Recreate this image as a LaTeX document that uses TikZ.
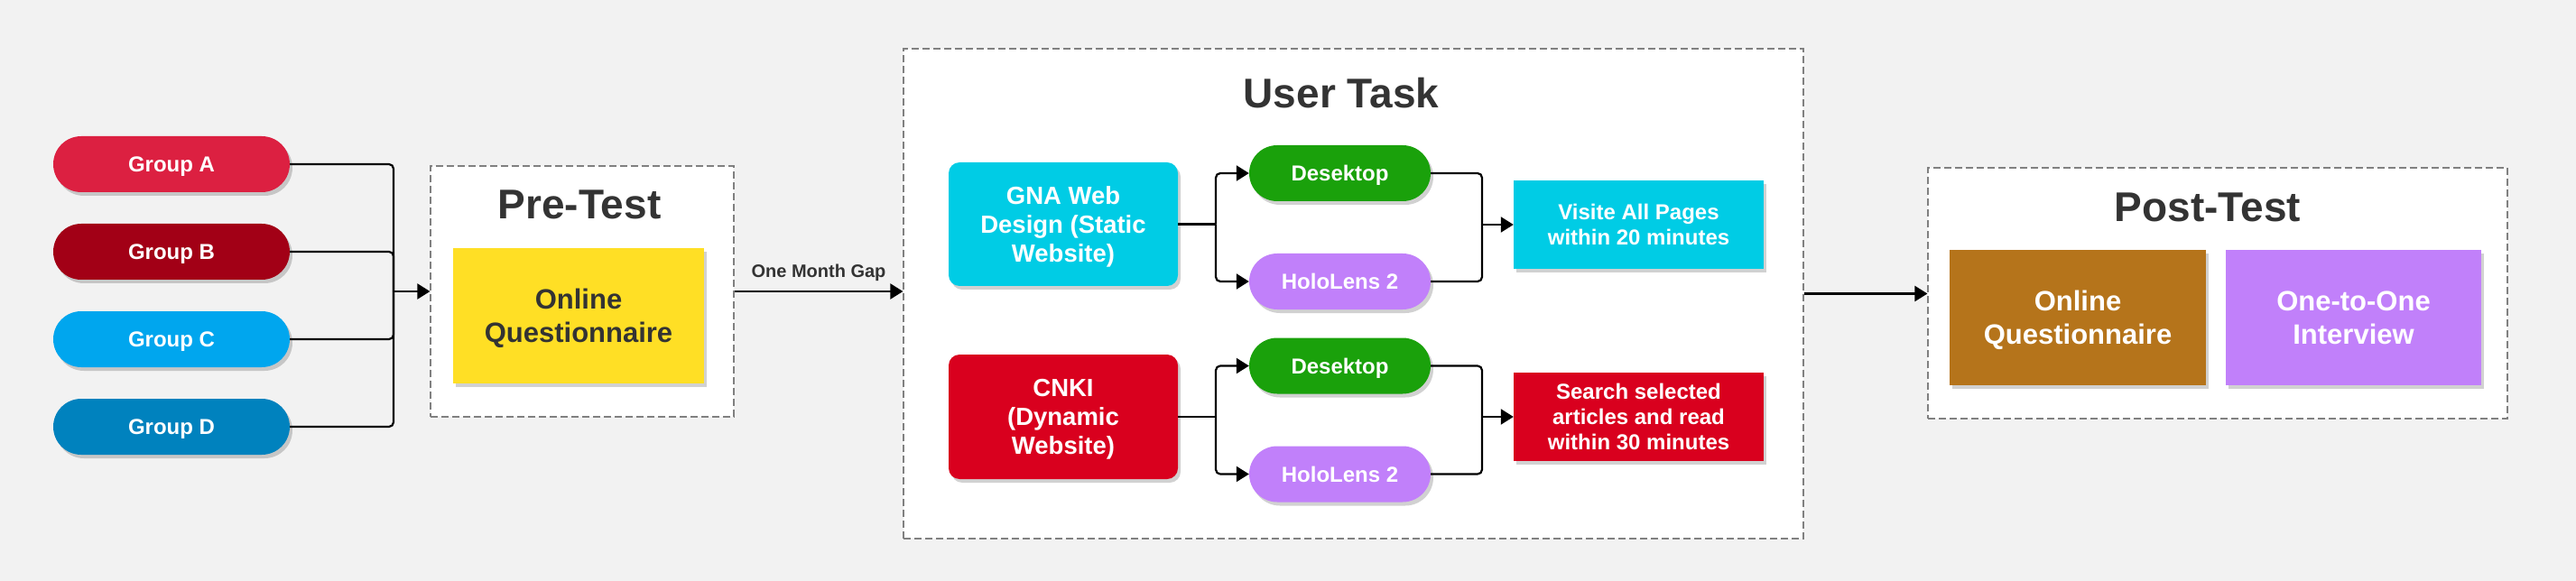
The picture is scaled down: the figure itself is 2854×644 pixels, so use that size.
\documentclass[tikz,border=0pt]{standalone}
\usepackage{fontspec}
\setmainfont{Liberation Sans}
\usetikzlibrary{arrows.meta,shadows,calc}
\definecolor{bg}{HTML}{F2F2F2}
\definecolor{cA}{HTML}{DC2041}
\definecolor{cB}{HTML}{A20016}
\definecolor{cC}{HTML}{00A6EE}
\definecolor{cD}{HTML}{0082BE}
\definecolor{cY}{HTML}{FFDF25}
\definecolor{cCy}{HTML}{00CCE5}
\definecolor{cG}{HTML}{1AA10B}
\definecolor{cP}{HTML}{C180FA}
\definecolor{cR}{HTML}{D9001E}
\definecolor{cBr}{HTML}{B5741B}
\definecolor{tdark}{HTML}{333333}
\definecolor{dashc}{HTML}{808080}
\newcommand\myfs[2]{\fontsize{#1}{#2}\selectfont}
\begin{document}
\begin{tikzpicture}[x=1pt,y=-1pt,
 shadowed/.style={drop shadow={shadow xshift=3pt,shadow yshift=-4pt,opacity=0.18,fill=black}},
 box/.style={inner sep=0pt, align=center, text=white, font=\bfseries\myfs{24}{28}, text depth=0pt, shadowed},
 pill/.style={box, rounded corners=31pt, minimum height=62pt, text depth=-3pt},
 cont/.style={draw=dashc, line width=1.2pt, dash pattern=on 8pt off 4pt, fill=white, inner sep=0pt},
 title/.style={inner sep=0pt, text=tdark, font=\bfseries\myfs{46}{55}},
 line/.style={draw=black, line width=2.2pt, rounded corners=5pt},
 arr/.style={line, -{Triangle[length=14pt,width=17pt]}},
]
\useasboundingbox (0,0) rectangle (2854,644);
\fill[bg] (0,0) rectangle (2854,644);

% containers
\node[cont, minimum width=336pt, minimum height=278pt] (pre) at (645,323) {};
\node[cont, minimum width=997pt, minimum height=543pt] (user) at (1499.5,325.5) {};
\node[cont, minimum width=642pt, minimum height=278pt] (post) at (2457,325) {};

% titles
\node[title] (pret) at (642,227) {Pre-Test};
\node[title] (ut) at (1486,103) {User Task};
\node[title] (postt) at (2446,230) {Post-Test};

% groups
\node[pill, fill=cA, minimum width=262pt] (gA) at (190,182) {Group A};
\node[pill, fill=cB, minimum width=262pt] (gB) at (190,279) {Group B};
\node[pill, fill=cC, minimum width=262pt] (gC) at (190,376) {Group C};
\node[pill, fill=cD, minimum width=262pt] (gD) at (190,473) {Group D};

% pre-test content
\node[box, fill=cY, text=tdark, minimum width=278pt, minimum height=150pt, font=\bfseries\myfs{31}{37}] (pq) at (641,350) {Online\\Questionnaire};

% user task content
\node[box, fill=cCy, rounded corners=12pt, minimum width=254pt, minimum height=137pt, font=\bfseries\myfs{27.5}{32}] (gna) at (1178,248.5) {GNA Web\\Design (Static\\Website)};
\node[pill, fill=cG, minimum width=201pt] (d1) at (1484.5,192) {Desektop};
\node[pill, fill=cP, minimum width=201pt] (h1) at (1484.5,312) {HoloLens 2};
\node[box, fill=cCy, minimum width=277pt, minimum height=98pt] (vis) at (1815.5,249) {Visite All Pages\\within 20 minutes};

\node[box, fill=cR, rounded corners=12pt, minimum width=254pt, minimum height=138pt, font=\bfseries\myfs{27.5}{32}] (cnki) at (1178,462) {CNKI\\(Dynamic\\Website)};
\node[pill, fill=cG, minimum width=201pt] (d2) at (1484.5,405.5) {Desektop};
\node[pill, fill=cP, minimum width=201pt] (h2) at (1484.5,525.5) {HoloLens 2};
\node[box, fill=cR, minimum width=277pt, minimum height=98pt] (srch) at (1815.5,462) {Search selected\\articles and read\\within 30 minutes};

% post-test content
\node[box, fill=cBr, minimum width=284pt, minimum height=150pt, font=\bfseries\myfs{31}{37}] (pq2) at (2302,352) {Online\\Questionnaire};
\node[box, fill=cP, minimum width=283pt, minimum height=150pt, font=\bfseries\myfs{31}{37}] (int) at (2607.5,352) {One-to-One\\Interview};

% connectors: groups to pre-test
\coordinate (jn) at (436,323);
\draw[line] (gA.east) -| (jn);
\draw[line] (gB.east) -| (jn);
\draw[line] (gC.east) -| (jn);
\draw[line] (gD.east) -| (jn);
\draw[arr] (jn) -- (pre.west);

% pre to user task
\draw[arr] (pre.east) -- (pre.east -| user.west);
\node[inner sep=0pt, text=tdark, font=\bfseries\myfs{20}{24}] (gap) at (907,302) {One Month Gap};

% user task to post
\draw[arr] (user.east) -- (user.east -| post.west);

% GNA branch
\coordinate (b1) at (1347,248.5);
\draw[line] (gna.east) -- (b1);
\draw[arr] (b1) |- (d1.west);
\draw[arr] (b1) |- (h1.west);
\coordinate (m1) at (1642,249);
\draw[line] (d1.east) -| (m1);
\draw[line] (h1.east) -| (m1);
\draw[arr] (m1) -- (vis.west);

% CNKI branch
\coordinate (b2) at (1347,462);
\draw[line] (cnki.east) -- (b2);
\draw[arr] (b2) |- (d2.west);
\draw[arr] (b2) |- (h2.west);
\coordinate (m2) at (1642,462);
\draw[line] (d2.east) -| (m2);
\draw[line] (h2.east) -| (m2);
\draw[arr] (m2) -- (srch.west);
\end{tikzpicture}
\end{document}
